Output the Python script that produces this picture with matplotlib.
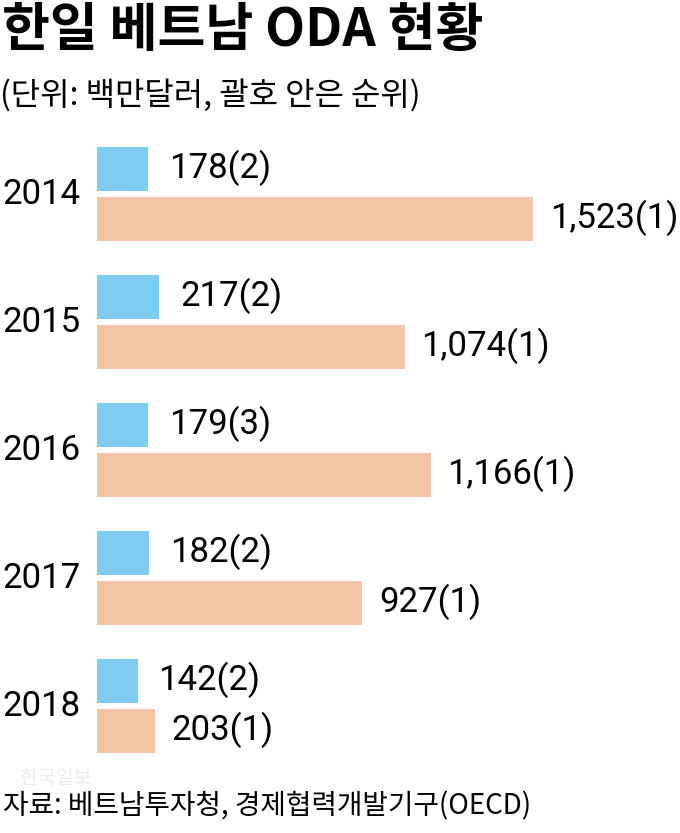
import matplotlib
matplotlib.use("Agg")
from matplotlib import pyplot as plt
from matplotlib import transforms

years = ["2014", "2015", "2016", "2017", "2018"]
korea = [178, 217, 179, 182, 142]
korea_rank = [2, 2, 3, 2, 2]
japan = [1523, 1074, 1166, 927, 203]
japan_rank = [1, 1, 1, 1, 1]

blue = "#7dcdf2"
salmon = "#f6c4a6"
kr_font = ["Noto Sans CJK KR", "DejaVu Sans"]
num_font = ["Roboto", "DejaVu Sans"]

fig = plt.figure(figsize=(6.8, 8.33), dpi=100)

fig.text(0.003, 0.995, "한일 베트남 ODA 현황", family=kr_font, fontsize=37.5,
         fontweight="bold", va="top", ha="left")
fig.text(0.0, 0.905, "(단위: 백만달러, 괄호 안은 순위)", family=kr_font,
         fontsize=23, va="top", ha="left")

# axes: left edge = bar origin (97px), top 130px, bottom 770px
ax = fig.add_axes([97 / 680, 1 - 770 / 833, 583 / 680, 640 / 833])
ax.set_xlim(0, 2036)
ax.set_ylim(4.5, -0.5)
ax.axis("off")

pos = list(range(len(years)))
off = 0.195
h = 0.35
ax.barh([p - off for p in pos], korea, height=h, color=blue)
ax.barh([p + off for p in pos], japan, height=h, color=salmon)

for p, v, r in zip(pos, korea, korea_rank):
    ax.annotate(f"{v:,}({r})", (v, p - off), xytext=(15, 1), textcoords="offset points",
                va="center", ha="left", family=num_font, fontsize=25)
for p, v, r in zip(pos, japan, japan_rank):
    ax.annotate(f"{v:,}({r})", (v, p + off), xytext=(12, 1), textcoords="offset points",
                va="center", ha="left", family=num_font, fontsize=25)

trans = transforms.blended_transform_factory(fig.transFigure, ax.transData)
for p, y in zip(pos, years):
    fig.text(81 / 680, p, y, transform=trans, ha="right", va="center",
             family=num_font, fontsize=25)

fig.text(0.03, 0.066, "한국일보", family=kr_font, fontsize=14, color="#ececec",
         va="center", ha="left")
fig.text(0.005, 0.032, "자료: 베트남투자청, 경제협력개발기구(OECD)", family=kr_font,
         fontsize=20, va="center", ha="left")

fig.savefig("out.png", dpi=100, facecolor="white")
